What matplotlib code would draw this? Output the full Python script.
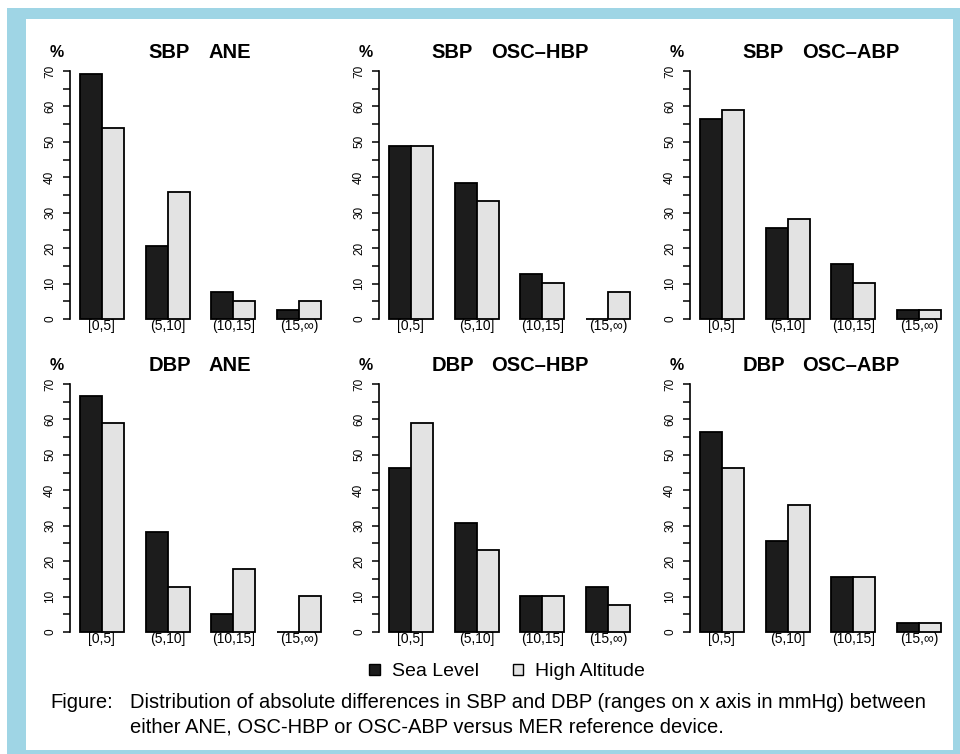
import matplotlib
matplotlib.use("Agg")
import matplotlib.pyplot as plt
from matplotlib.patches import Rectangle, Patch
from matplotlib.ticker import MultipleLocator

plt.rcParams['font.family'] = ['Liberation Sans', 'DejaVu Sans']

# data (% of measurements per range of absolute difference)
ranges = ["[0,5]", "(5,10]", "(10,15]", "(15,\u221e)"]
measures = ["SBP", "SBP", "SBP", "DBP", "DBP", "DBP"]
devices = ["ANE", "OSC\u2013HBP", "OSC\u2013ABP", "ANE", "OSC\u2013HBP", "OSC\u2013ABP"]
sea_level = [
    [69.2, 20.5, 7.7, 2.6],
    [48.7, 38.5, 12.8, 0.0],
    [56.4, 25.6, 15.4, 2.6],
    [66.7, 28.2, 5.1, 0.0],
    [46.2, 30.8, 10.3, 12.8],
    [56.4, 25.6, 15.4, 2.6],
]
high_altitude = [
    [53.8, 35.9, 5.1, 5.1],
    [48.7, 33.3, 10.3, 7.7],
    [59.0, 28.2, 10.3, 2.6],
    [59.0, 12.8, 17.9, 10.3],
    [59.0, 23.1, 10.3, 7.7],
    [46.2, 35.9, 15.4, 2.6],
]

W, H = 960, 754
fig = plt.figure(figsize=(W / 100, H / 100), dpi=100)

# light blue frame around the figure
blue = "#9fd5e5"
fig.add_artist(Rectangle((7 / W, 0), 1 - 7 / W, (H - 8) / H, transform=fig.transFigure,
                         facecolor=blue, edgecolor="none", zorder=-2))
fig.add_artist(Rectangle((26 / W, 4 / H), (953 - 26) / W, (750 - 19) / H,
                         transform=fig.transFigure, facecolor="white", edgecolor="none", zorder=-1))

dark = "#1c1c1c"
light = "#e3e3e3"
lefts = [70, 379, 690]
bottoms = [329, 642]
aw, ah = 261, 268
sbp_x = [0.30, 0.20, 0.20]

for k in range(6):
    r, c = divmod(k, 3)
    ax = fig.add_axes([lefts[c] / W, (H - bottoms[r]) / H, aw / W, ah / H])
    ax.set_facecolor("none")
    xs = [1 + 3 * i for i in range(len(ranges))]
    ax.bar(xs, sea_level[k], width=1, align="edge", color=dark, edgecolor="black", linewidth=1.3)
    ax.bar([x + 1 for x in xs], high_altitude[k], width=1, align="edge", color=light,
           edgecolor="black", linewidth=1.3)
    ax.set_xlim(0.56, 12.44)
    ax.set_ylim(-2.8, 72.8)
    for s in ["top", "right", "bottom"]:
        ax.spines[s].set_visible(False)
    ax.spines["left"].set_bounds(0, 70)
    ax.spines["left"].set_linewidth(1.2)
    ax.yaxis.set_major_locator(MultipleLocator(10))
    ax.yaxis.set_minor_locator(MultipleLocator(5))
    ax.tick_params(axis="y", which="both", length=5, width=1.1, direction="out")
    ax.tick_params(axis="y", which="major", labelsize=8.5, pad=5)
    for lab in ax.get_yticklabels():
        lab.set_rotation(90)
        lab.set_va("center")
    ax.set_xticks([x + 1 for x in xs])
    ax.set_xticklabels(ranges, fontsize=10)
    ax.tick_params(axis="x", length=0, pad=-7)
    ax.text(-0.05, 1.03, "%", transform=ax.transAxes, fontsize=11.5, fontweight="bold",
            ha="center", va="center")
    ax.text(sbp_x[c], 1.03, measures[k], transform=ax.transAxes, fontsize=14.5,
            fontweight="bold", ha="left", va="center")
    ax.text(sbp_x[c] + 0.23, 1.03, devices[k], transform=ax.transAxes, fontsize=14.5,
            fontweight="bold", ha="left", va="center")

handles = [Patch(facecolor=dark, edgecolor="black", label="Sea Level"),
           Patch(facecolor=light, edgecolor="black", label="High Altitude")]
fig.legend(handles=handles, loc="center", bbox_to_anchor=(507 / W, 1 - 672 / H), ncol=2,
           frameon=False, fontsize=14, handlelength=0.55, handleheight=0.55,
           handletextpad=0.6, columnspacing=1.75)

fig.text(50 / W, 1 - 703 / H, "Figure:", fontsize=14.5, ha="left", va="center")
fig.text(130 / W, 1 - 703 / H,
         "Distribution of absolute differences in SBP and DBP (ranges on x axis in mmHg) between",
         fontsize=14.5, ha="left", va="center")
fig.text(130 / W, 1 - 727 / H,
         "either ANE, OSC-HBP or OSC-ABP versus MER reference device.",
         fontsize=14.5, ha="left", va="center")

fig.savefig("out.png", dpi=100)
